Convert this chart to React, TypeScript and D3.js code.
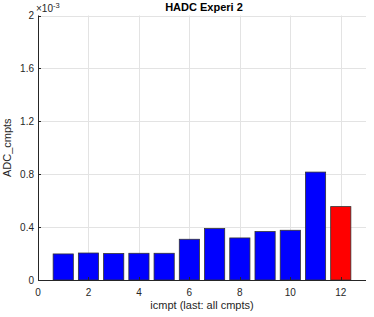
import * as d3 from 'd3';
import React, { useRef, useEffect } from 'react';

const components = [1, 2, 3, 4, 5, 6, 7, 8, 9, 10, 11, 12];
const adcValues = [0.197e-3, 0.204e-3, 0.2e-3, 0.202e-3, 0.202e-3, 0.308e-3, 0.389e-3, 0.318e-3, 0.366e-3, 0.376e-3, 0.816e-3, 0.555e-3];
const xTicks = [0, 2, 4, 6, 8, 10, 12];
const yTicks = [0, 0.4e-3, 0.8e-3, 1.2e-3, 1.6e-3, 2e-3];

const W = 374;
const H = 317;
const FONT = '"Liberation Sans", Arial, sans-serif';

const App = () => {
  const ref = useRef<SVGSVGElement>(null);

  useEffect(() => {
    const svg = d3.select(ref.current);
    svg.selectAll('*').remove();

    const left = 38, right = 366, top = 15.5, bottom = 280;
    const x = d3.scaleLinear().domain([0, 13]).range([left, right]);
    const y = d3.scaleLinear().domain([0, 2e-3]).range([bottom, top]);
    const axisColor = '#262626';

    svg.append('rect').attr('width', W).attr('height', H).attr('fill', '#fff');

    // grid
    const grid = svg.append('g').attr('stroke', '#e3e3e3').attr('stroke-width', 1);
    xTicks.forEach(t => {
      grid.append('line').attr('x1', Math.round(x(t)) + 0.5).attr('x2', Math.round(x(t)) + 0.5)
        .attr('y1', top).attr('y2', bottom);
    });
    yTicks.forEach(t => {
      grid.append('line').attr('x1', left).attr('x2', right)
        .attr('y1', Math.round(y(t)) + 0.5).attr('y2', Math.round(y(t)) + 0.5);
    });

    // bars
    const bw = (x(1) - x(0)) * 0.8;
    svg.append('g').selectAll('rect')
      .data(components)
      .enter()
      .append('rect')
      .attr('x', (d) => x(d) - bw / 2)
      .attr('y', (_, i) => y(adcValues[i]))
      .attr('width', bw)
      .attr('height', (_, i) => y(0) - y(adcValues[i]))
      .attr('fill', (_, i) => (i === components.length - 1 ? '#ff0000' : '#0000ff'))
      .attr('stroke', '#333')
      .attr('stroke-width', 0.8);

    // axes lines
    svg.append('line').attr('x1', left + 0.5).attr('x2', left + 0.5).attr('y1', top).attr('y2', bottom)
      .attr('stroke', axisColor);
    svg.append('line').attr('x1', left).attr('x2', right).attr('y1', bottom + 0.5).attr('y2', bottom + 0.5)
      .attr('stroke', axisColor);

    // ticks
    xTicks.forEach(t => {
      svg.append('line').attr('x1', Math.round(x(t)) + 0.5).attr('x2', Math.round(x(t)) + 0.5)
        .attr('y1', bottom).attr('y2', bottom - 3).attr('stroke', axisColor);
      svg.append('text').attr('x', x(t)).attr('y', bottom + 16)
        .attr('text-anchor', 'middle').attr('font-size', 10).attr('font-family', FONT)
        .attr('fill', axisColor).text(t);
    });
    yTicks.forEach(t => {
      svg.append('line').attr('x1', left).attr('x2', left + 3)
        .attr('y1', Math.round(y(t)) + 0.5).attr('y2', Math.round(y(t)) + 0.5).attr('stroke', axisColor);
      svg.append('text').attr('x', left - 4).attr('y', y(t) + 3.5)
        .attr('text-anchor', 'end').attr('font-size', 10).attr('font-family', FONT)
        .attr('fill', axisColor).text(d3.format('~g')(t * 1e3));
    });

    // exponent
    const ex = svg.append('text').attr('x', left - 2).attr('y', 12)
      .attr('font-size', 10).attr('font-family', FONT).attr('fill', axisColor);
    ex.append('tspan').text('×10');
    ex.append('tspan').attr('dy', -4).attr('font-size', 7.5).text('-3');

    // title
    svg.append('text').attr('x', (left + right) / 2 + 2).attr('y', 11)
      .attr('text-anchor', 'middle').attr('font-size', 11).attr('font-weight', 'bold')
      .attr('font-family', FONT).attr('fill', '#000').text('HADC Experi 2');

    // labels
    svg.append('text').attr('x', (left + right) / 2).attr('y', 309)
      .attr('text-anchor', 'middle').attr('font-size', 11).attr('font-family', FONT)
      .attr('fill', axisColor).text('icmpt (last: all cmpts)');
    svg.append('text').attr('transform', `translate(11, ${(top + bottom) / 2}) rotate(-90)`)
      .attr('text-anchor', 'middle').attr('font-size', 11).attr('font-family', FONT)
      .attr('fill', axisColor).text('ADC_cmpts');
  }, []);

  return (
    <svg width={W} height={H} ref={ref} style={{ position: 'absolute', left: 0, top: 0 }} />
  );
};

export default App;
